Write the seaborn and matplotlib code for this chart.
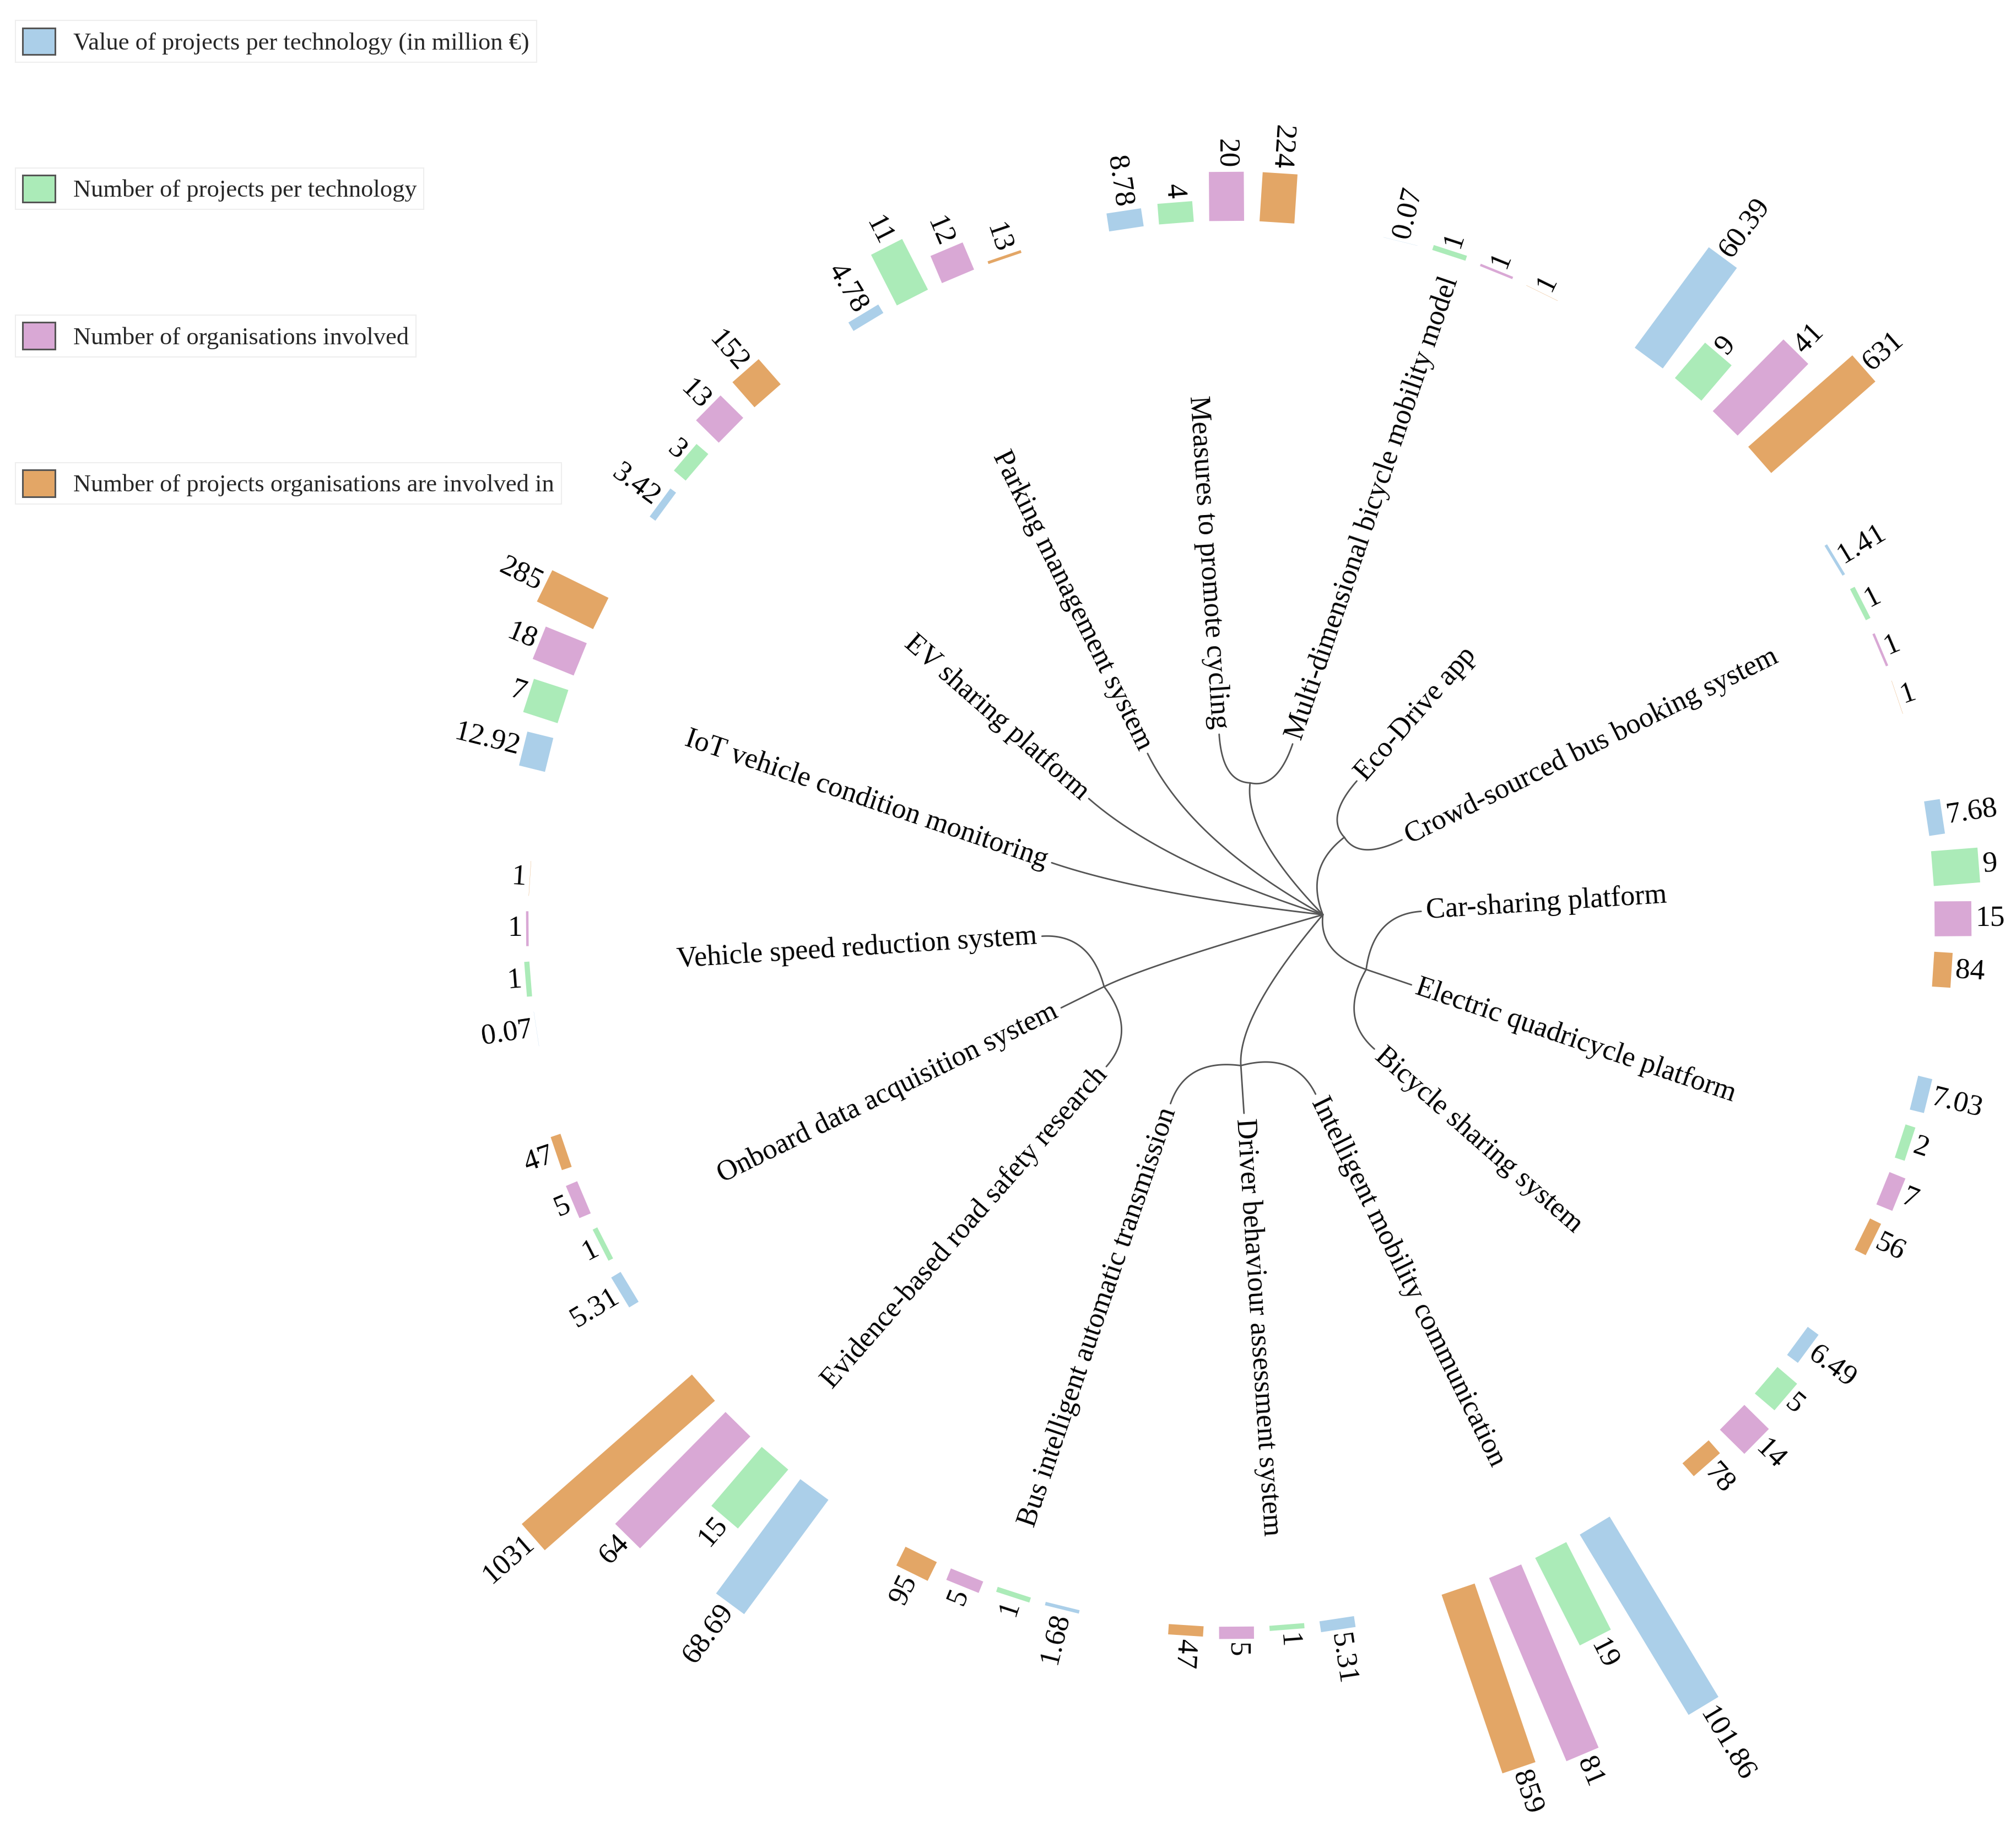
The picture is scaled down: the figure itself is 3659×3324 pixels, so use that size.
import numpy as np
import matplotlib
matplotlib.use("Agg")
from matplotlib import pyplot as plt
from matplotlib.patches import Patch
import seaborn as sns

sns.set_theme(style="white")
plt.rcParams["font.family"] = ["Liberation Serif", "DejaVu Serif"]

# technologies, clockwise from the top of the ring
technologies = [
    "Measures to promote cycling",
    "Multi-dimensional bicycle mobility model",
    "Eco-Drive app",
    "Crowd-sourced bus booking system",
    "Car-sharing platform",
    "Electric quadricycle platform",
    "Bicycle sharing system",
    "Intelligent mobility communication",
    "Driver behaviour assessment system",
    "Bus intelligent automatic transmission",
    "Evidence-based road safety research",
    "Onboard data acquisition system",
    "Vehicle speed reduction system",
    "IoT vehicle condition monitoring",
    "EV sharing platform",
    "Parking management system",
]
project_value = [8.78, 0.07, 60.39, 1.41, 7.68, 7.03, 6.49, 101.86,
                 5.31, 1.68, 68.69, 5.31, 0.07, 12.92, 3.42, 4.78]
projects = [4, 1, 9, 1, 9, 2, 5, 19, 1, 1, 15, 1, 1, 7, 3, 11]
organisations = [20, 1, 41, 1, 15, 7, 14, 81, 5, 5, 64, 5, 1, 18, 13, 12]
org_projects = [224, 1, 631, 1, 84, 56, 78, 859, 47, 95, 1031, 47, 1, 285, 152, 13]

metric_labels = [
    "Value of projects per technology (in million €)",
    "Number of projects per technology",
    "Number of organisations involved",
    "Number of projects organisations are involved in",
]
# technologies sharing a branch of the tree, the others hang off the root
branches = [[0, 1], [2, 3], [4, 5, 6], [7, 8, 9], [10, 11, 12]]

palette = sns.color_palette(["#abcfe9", "#abebb8", "#d9a8d5", "#e3a666"])

# layout (units of the 1560 px wide reference view)
W_PX, H_PX, DPI = 3659, 3324, 100
U = W_PX / 1560
PT = U * 72 / DPI
VIEW_H = H_PX / U
CX, CY, R_MAX = 953, 715, 1000
R_LEAF, R_NODE, R_BAR = 147, 110, 544
ROOT = (5.7, 71)
START, STEP = 93.75, 360 / len(technologies)
BAR_SHIFT, BAR_GAP, BAR_W = -1.3, 4.1, 27
units_per_value = [1.6, 4.0, 1.9, 0.17]
LABEL_FS, VALUE_FS, LEGEND_FS = 37.5, 38.5, 32


def xy(ang, r):
    a = np.radians(ang)
    return np.array([r * np.cos(a), r * np.sin(a)])


def link(ax, src, dst):
    p0, p1, p2 = xy(*src), xy(dst[0], src[1]), xy(*dst)
    t = np.linspace(0, 1, 80)[:, None]
    pts = (1 - t) ** 2 * p0 + 2 * (1 - t) * t * p1 + t ** 2 * p2
    ax.plot(np.arctan2(pts[:, 1], pts[:, 0]), np.hypot(pts[:, 0], pts[:, 1]),
            color="#555555", lw=1.2 * PT, solid_capstyle="round")


def radial_text(ax, ang, r, s, flip, size):
    ax.text(np.radians(ang), r, s, rotation=ang - 180 if flip else ang,
            rotation_mode="anchor", ha="right" if flip else "left",
            va="center", fontsize=size, color="black")


fig = plt.figure(figsize=(W_PX / DPI, H_PX / DPI), dpi=DPI)
fig.patch.set_facecolor("white")
ax = fig.add_axes([(CX - R_MAX) / 1560, 1 - (CY + R_MAX) / VIEW_H,
                   2 * R_MAX / 1560, 2 * R_MAX / VIEW_H], projection="polar")
ax.set_ylim(0, R_MAX)
ax.axis("off")

leaf_ang = START - STEP * np.arange(len(technologies))

# tree
in_branch = set()
for br in branches:
    node = (np.mean(leaf_ang[br]), R_NODE)
    link(ax, ROOT, node)
    for i in br:
        link(ax, node, (leaf_ang[i], R_LEAF))
        in_branch.add(i)
for i in range(len(technologies)):
    if i not in in_branch:
        link(ax, ROOT, (leaf_ang[i], R_LEAF))

# leaf labels, bars and their values
metrics = [project_value, projects, organisations, org_projects]
for i, name in enumerate(technologies):
    flip = np.cos(np.radians(leaf_ang[i])) < 0
    radial_text(ax, leaf_ang[i], R_LEAF + 4, name, flip, LABEL_FS)
    for k, values in enumerate(metrics):
        ang = leaf_ang[i] + BAR_SHIFT + (1.5 - k) * BAR_GAP
        top = R_BAR + values[i] * units_per_value[k]
        ax.plot([np.radians(ang)] * 2, [R_BAR, top], color=palette[k],
                lw=BAR_W * PT, solid_capstyle="butt")
        radial_text(ax, ang, top + 3, f"{values[i]:g}", flip, VALUE_FS)

# legend: one framed entry per metric
for k, lab in enumerate(metric_labels):
    yc = 32 + 114 * k
    leg = fig.legend(handles=[Patch(facecolor=palette[k], edgecolor="#555555",
                                    linewidth=1.3 * PT, label=lab)],
                     loc="center left", bbox_to_anchor=(12 / 1560, 1 - yc / VIEW_H),
                     frameon=True, fancybox=False, framealpha=1,
                     edgecolor="#eeeeee", fontsize=LEGEND_FS,
                     handlelength=1.31, handleheight=1.31, handletextpad=0.74,
                     borderpad=0.3, borderaxespad=0)
    leg.get_frame().set_linewidth(1.5)

fig.savefig("out.png", dpi=DPI, facecolor="white")
